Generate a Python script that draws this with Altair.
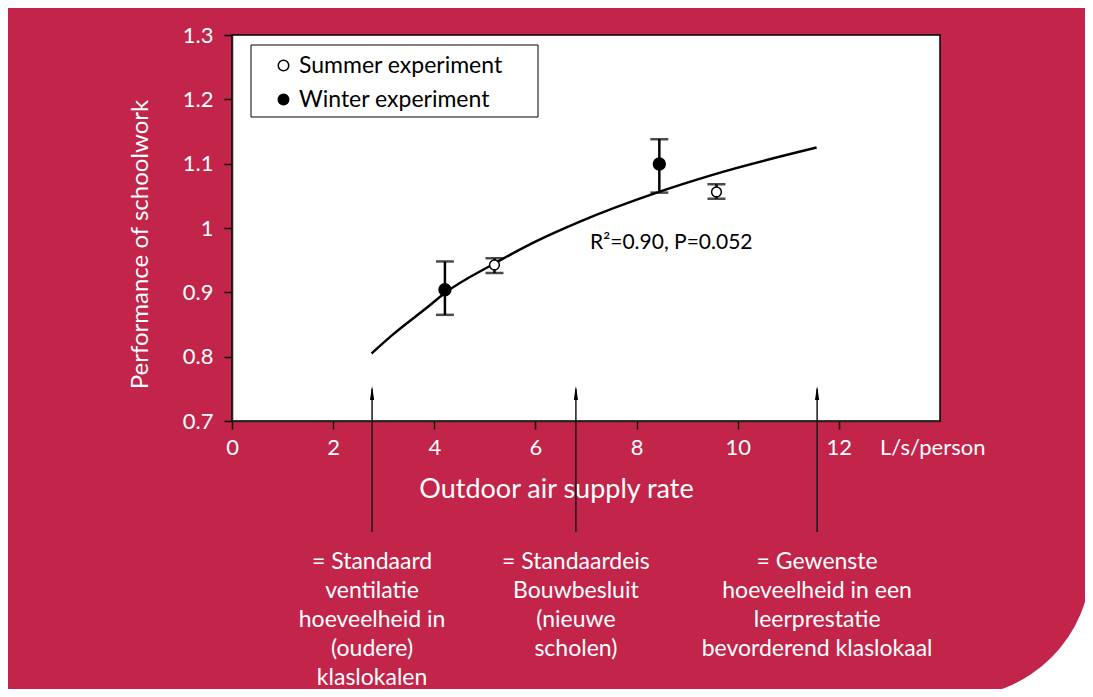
import math
import altair as alt
import pandas as pd

CRIMSON = "#C3244A"
FONT = "Lato"

# ---- data ----
series = ["Winter experiment", "Summer experiment", "Winter experiment", "Summer experiment"]
rate = [4.21, 5.19, 8.45, 9.58]
perf = [0.904, 0.9425, 1.0995, 1.056]
err_low = [0.865, 0.930, 1.055, 1.0455]
err_high = [0.948, 0.953, 1.138, 1.068]

fit_x = [2.76, 3.19, 3.85, 4.21, 5.17, 6.03, 6.88, 8.40, 9.52, 11.56]
fit_y = [0.805, 0.835, 0.876, 0.899, 0.944, 0.980, 1.010, 1.055, 1.083, 1.125]

arrow_x = [2.77, 6.80, 11.57]
arrow_head_y = [0.7435, 0.7435, 0.7435]
arrow_top_y = [0.75, 0.75, 0.75]
arrow_bottom_y = [0.5275, 0.5275, 0.5275]
arrow_notes = [
    "= Standaard\nventilatie\nhoeveelheid in\n(oudere)\nklaslokalen",
    "= Standaardeis\nBouwbesluit\n(nieuwe\nscholen)",
    "= Gewenste\nhoeveelheid in een\nleerprestatie\nbevorderend klaslokaal",
]

stat_x = [7.08]
stat_y = [0.976]
stat_text = ["R\u00b2=0.90, P=0.052"]

x_ticks = [0, 2, 4, 6, 8, 10, 12]
y_ticks = [0.7, 0.8, 0.9, 1.0, 1.1, 1.2, 1.3]
legend_order = ["Summer experiment", "Winter experiment"]

# ---- tables ----
pts = pd.DataFrame({"x": rate, "y": perf, "lo": err_low, "hi": err_high, "series": series})
fit = pd.DataFrame({"x": fit_x, "y": fit_y})
arrows = pd.DataFrame({"x": arrow_x, "y": arrow_top_y, "y2": arrow_bottom_y,
                       "head": arrow_head_y, "note": arrow_notes})
stat = pd.DataFrame({"x": stat_x, "y": stat_y, "t": stat_text})
one = pd.DataFrame({"k": [0]})

xs = alt.Scale(domain=[0, 14], nice=False, zero=False)
ys = alt.Scale(domain=[0.7, 1.3], nice=False, zero=False)

x_axis = alt.Axis(values=x_ticks, title="Outdoor air supply rate", titleX=324, titleY=68,
                  titleBaseline="middle", titleAlign="center", labelPadding=8,
                  labelFlush=False, titleFontSize=27)
y_axis = alt.Axis(values=y_ticks, format="~g", title="Performance of schoolwork",
                  titleX=-92, titleY=209, titleBaseline="middle", titleAlign="center",
                  titleAngle=-90, labelPadding=11, labelFlush=False, titleFontSize=24)

X = alt.X("x:Q", scale=xs, axis=x_axis)
Y = alt.Y("y:Q", scale=ys, axis=y_axis)

# background corner (rounded bottom-right of the crimson panel)
corner_white = alt.Chart(one).mark_rect(color="white").encode(
    x=alt.value(724), x2=alt.value(870), y=alt.value(527), y2=alt.value(670))
corner_arc = alt.Chart(one).mark_arc(color=CRIMSON, radius=135,
                                     theta=math.pi / 2, theta2=math.pi).encode(
    x=alt.value(724), y=alt.value(527))

legend_box = alt.Chart(one).mark_rect(fill="white", stroke="black", strokeWidth=1).encode(
    x=alt.value(19), x2=alt.value(306), y=alt.value(10), y2=alt.value(82))

curve = alt.Chart(fit).mark_line(color="black", strokeWidth=2.5, interpolate="monotone").encode(
    x=X, y=Y)

bars = alt.Chart(pts).mark_rule(color="black", strokeWidth=2.5).encode(
    x=X, y=alt.Y("lo:Q", scale=ys), y2="hi:Q")
cap_lo = alt.Chart(pts).mark_tick(color="black", orient="horizontal", size=18, thickness=2.5).encode(
    x=X, y=alt.Y("lo:Q", scale=ys))
cap_hi = alt.Chart(pts).mark_tick(color="black", orient="horizontal", size=18, thickness=2.5).encode(
    x=X, y=alt.Y("hi:Q", scale=ys))

fill_enc = alt.Fill(
    "series:N",
    scale=alt.Scale(domain=legend_order, range=["white", "black"]),
    legend=alt.Legend(title=None, orient="none", legendX=40, legendY=19,
                      labelFontSize=23, labelFont=FONT, labelColor="black", labelLimit=400,
                      symbolType="circle", symbolSize=110,
                      symbolStrokeColor="black", symbolStrokeWidth=1.5,
                      rowPadding=10, labelOffset=4, padding=0, zindex=2),
)

summer_pts = alt.Chart(pts).transform_filter(
    alt.datum.series == "Summer experiment"
).mark_point(filled=True, stroke="black", strokeWidth=1.5, opacity=1, size=95).encode(
    x=X, y=Y, fill=fill_enc)
winter_pts = alt.Chart(pts).transform_filter(
    alt.datum.series == "Winter experiment"
).mark_point(filled=True, stroke="black", strokeWidth=1.5, opacity=1, size=140).encode(
    x=X, y=Y, fill=fill_enc)

arrow_lines = alt.Chart(arrows).mark_rule(color="#1a1a1a", strokeWidth=1.5).encode(
    x=X, y=alt.Y("y:Q", scale=ys), y2="y2:Q")
arrow_heads = alt.Chart(arrows).mark_point(shape="M0,-1L0.3,1L-0.3,1Z", filled=True,
                                           color="black", opacity=1, size=196).encode(
    x=X, y=alt.Y("head:Q", scale=ys))

notes = alt.Chart(arrows).mark_text(color="white", font=FONT, fontSize=23, lineBreak="\n",
                                    lineHeight=29, align="center", baseline="top").encode(
    x=X, y=alt.value(516), text="note:N")

stat_label = alt.Chart(stat).mark_text(color="black", font=FONT, fontSize=21,
                                       align="left", baseline="middle").encode(
    x=X, y=Y, text="t:N")

unit_label = alt.Chart(one).mark_text(text="L/s/person", color="white", font=FONT, fontSize=22,
                                      align="left", baseline="middle").encode(
    x=alt.value(648), y=alt.value(413))

chart = alt.layer(
    corner_white, corner_arc, legend_box, curve, bars, cap_lo, cap_hi, summer_pts, winter_pts,
    arrow_lines, arrow_heads, notes, stat_label, unit_label,
).properties(
    width=708, height=386,
    padding={"left": 224, "top": 27, "right": 145, "bottom": 268},
    autosize=alt.AutoSizeParams(type="none"),
    background=CRIMSON,
).configure_view(
    fill="white", stroke="black", strokeWidth=1.5,
).configure_axis(
    labelFont=FONT, labelFontSize=22, labelColor="white",
    titleFont=FONT, titleColor="white", titleFontWeight="normal",
    tickColor="black", tickSize=8, tickWidth=1.5,
    domainColor="#222", domainWidth=1.5, grid=False, zindex=1,
)

chart.save("out.html", embed_options={"renderer": "svg", "actions": False})
